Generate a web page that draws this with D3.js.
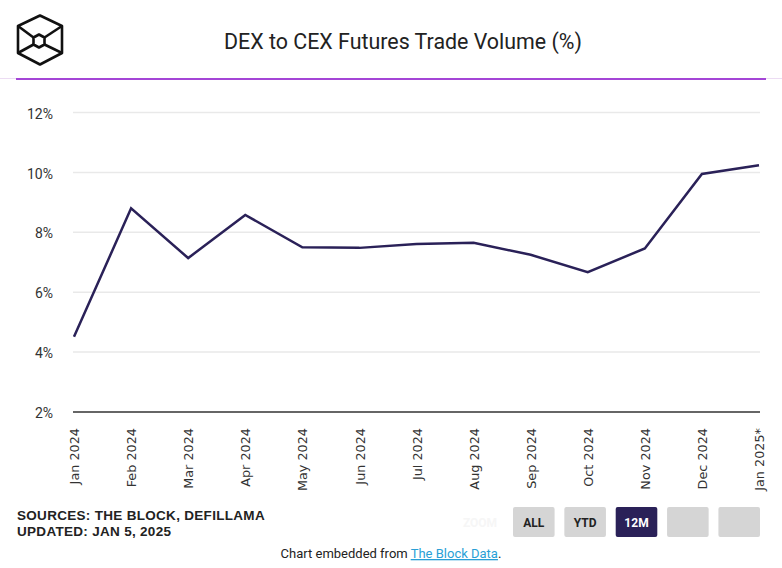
<!DOCTYPE html>
<html><head><meta charset="utf-8">
<script src="https://cdn.jsdelivr.net/npm/d3@7"></script>
<style>body{margin:0;background:#fff;}svg{display:block;}</style>
</head><body>
<svg id="c" width="782" height="568"></svg>
<script>
const categories = ["Jan 2024","Feb 2024","Mar 2024","Apr 2024","May 2024","Jun 2024","Jul 2024","Aug 2024","Sep 2024","Oct 2024","Nov 2024","Dec 2024","Jan 2025*"];
const values = [4.51, 8.80, 7.14, 8.58, 7.50, 7.48, 7.61, 7.65, 7.25, 6.67, 7.46, 9.95, 10.24];
const yTicks = [2, 4, 6, 8, 10, 12];
const title = "DEX to CEX Futures Trade Volume (%)";
const sources = ["SOURCES: THE BLOCK, DEFILLAMA", "UPDATED: JAN 5, 2025"];
const buttons = ["ALL", "YTD", "12M", "", ""];

const svg = d3.select("#c");
const x = d3.scalePoint().domain(categories).range([74, 759]);
const y = d3.scaleLinear().domain([2, 12]).range([412, 112.5]);

// logo
const lg = svg.append("g").attr("fill","none").attr("stroke","#111").attr("stroke-width",2.6).attr("stroke-linejoin","round");
const outer = [[40,15.5],[62,26],[62,53],[40,64.5],[18,53],[18,26]];
const inner = [[39,34.5],[44.5,37.5],[44.5,44.5],[39,47.5],[33.5,44.5],[33.5,37.5]];
lg.append("path").attr("d", d3.line()(outer) + "Z");
lg.append("path").attr("d", d3.line()(inner) + "Z");
[[5,5],[1,1],[4,4],[2,2]].forEach(([o,i]) => {
  lg.append("line").attr("x1",outer[o][0]).attr("y1",outer[o][1]).attr("x2",inner[i][0]).attr("y2",inner[i][1]);
});

// title
svg.append("text").attr("x", 403).attr("y", 49).attr("text-anchor","middle")
  .attr("font-family","Roboto, sans-serif").attr("font-size",21.4).attr("fill","#222").text(title);

// divider
svg.append("rect").attr("x",0).attr("y",78).attr("width",782).attr("height",1).attr("fill","#ecdcf3");
svg.append("rect").attr("x",16).attr("y",78).attr("width",750).attr("height",2).attr("fill","#a445d6");

// grid
const grid = svg.append("g");
grid.selectAll("line").data(yTicks.filter(d => d > 2)).join("line")
  .attr("x1",73).attr("x2",760).attr("y1",d=>y(d)).attr("y2",d=>y(d))
  .attr("stroke","#e9e9e9").attr("stroke-width",1.5);

// y axis
const yAxis = svg.append("g").attr("transform","translate(53,0)")
  .call(d3.axisLeft(y).tickValues(yTicks).tickFormat(d => d + "%").tickSize(0).tickPadding(0));
yAxis.select(".domain").remove();
yAxis.selectAll("text").attr("font-family","Roboto, sans-serif").attr("font-size",14).attr("fill","#333").attr("dy","0.4em");

// baseline
svg.append("line").attr("x1",73).attr("x2",760).attr("y1",y(2)).attr("y2",y(2))
  .attr("stroke","#666").attr("stroke-width",2);

// x axis
const xAxis = svg.append("g").attr("transform","translate(0,428)")
  .call(d3.axisBottom(x).tickSize(0).tickPadding(0));
xAxis.select(".domain").remove();
xAxis.selectAll("text")
  .attr("font-family","'DejaVu Sans', Verdana, sans-serif").attr("font-size",12.8).attr("fill","#333")
  .attr("transform","rotate(-90)").attr("text-anchor","end").attr("x",0).attr("y",0).attr("dy","0.36em");

// line
svg.append("path").datum(values)
  .attr("d", d3.line().x((d,i)=>x(categories[i])).y(d=>y(d)))
  .attr("fill","none").attr("stroke","#2a2158").attr("stroke-width",2.5).attr("stroke-linejoin","miter");

// sources
svg.selectAll(".src").data(sources).join("text").attr("class","src")
  .attr("x",17).attr("y",(d,i)=>520 + i*15.5)
  .attr("font-family","'Liberation Sans', Arial, sans-serif").attr("font-weight","bold").attr("font-size",13.5).attr("fill","#222")
  .attr("letter-spacing",0.3)
  .text(d=>d);

// zoom label (faint)
svg.append("text").attr("x",480).attr("y",527).attr("text-anchor","middle")
  .attr("font-family","Roboto, sans-serif").attr("font-weight","bold").attr("font-size",12).attr("fill","#f6f6f6").text("ZOOM");

// buttons
const bx = d3.scaleBand().domain(d3.range(buttons.length)).range([513, 760]).paddingInner(0.19);
const bg = svg.selectAll(".btn").data(buttons).join("g").attr("class","btn")
  .attr("transform",(d,i)=>`translate(${bx(i)},507)`);
bg.append("rect").attr("width",bx.bandwidth()).attr("height",30).attr("rx",2)
  .attr("fill",d => d === "12M" ? "#2a2158" : "#d5d5d5");
bg.append("text").attr("x",bx.bandwidth()/2).attr("y",20).attr("text-anchor","middle")
  .attr("font-family","Roboto, sans-serif").attr("font-weight","bold").attr("font-size",12)
  .attr("fill",d => d === "12M" ? "#fff" : "#222").text(d=>d);

// footer
const ft = svg.append("text").attr("x",391).attr("y",558).attr("text-anchor","middle")
  .attr("font-family","Roboto, sans-serif").attr("font-size",13).attr("fill","#222");
ft.append("tspan").text("Chart embedded from ");
ft.append("tspan").attr("fill","#2a9fd6").attr("text-decoration","underline").text("The Block Data");
ft.append("tspan").text(".");
</script>
</body></html>
